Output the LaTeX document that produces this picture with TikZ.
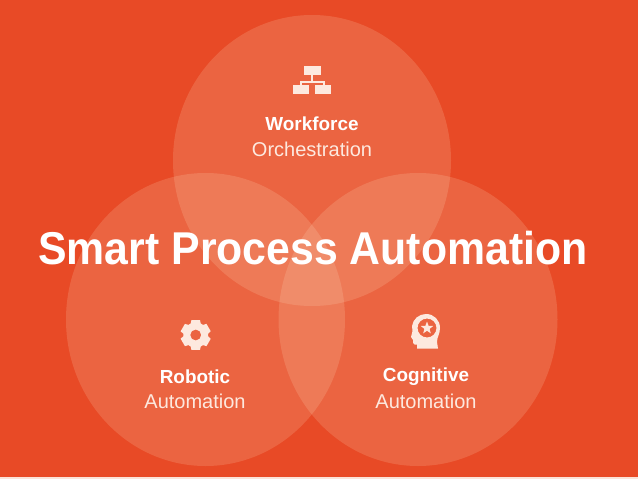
\documentclass[tikz,border=0pt]{standalone}
\usepackage{fontspec}
\setmainfont{Liberation Sans}
\definecolor{bgred}{HTML}{E84A26}
\definecolor{strip}{HTML}{FBE3D9}
\definecolor{ink}{HTML}{FDE9DF}
\definecolor{tint}{HTML}{FFF0D0}
\tikzset{
  venn/.style={fill=tint,fill opacity=0.16,draw=none},
  boldlab/.style={text=white,font=\fontsize{18.9}{22}\selectfont\bfseries,inner sep=0pt,anchor=center},
  lightlab/.style={text=ink,font=\fontsize{20}{22}\selectfont,inner sep=0pt,anchor=center},
  iconfill/.style={fill=ink,draw=none},
  iconline/.style={draw=ink,line width=1.8pt}
}
\begin{document}
\begin{tikzpicture}[x=1pt,y=-1pt]
\useasboundingbox (0,0) rectangle (638,479);
\fill[strip] (0,0) rectangle (638,479);
\fill[bgred] (0,0) rectangle (638,477);
\fill[venn] (312,160.5) ellipse [x radius=139,y radius=145.5];
\fill[venn] (205.5,319.5) ellipse [x radius=139.5,y radius=146.5];
\fill[venn] (418,319.5) ellipse [x radius=139.5,y radius=146.5];
% org chart icon
\draw[iconline] (312,72) -- (312,82) (301,87) -- (301,82) -- (324,82) -- (324,87);
\fill[iconfill] (304,66) rectangle (321,74.5);
\fill[iconfill] (293,85) rectangle (309,94);
\fill[iconfill] (314.5,85) rectangle (331,94);
% gear icon
\begin{scope}[shift={(195.7,335)}]
\fill[iconfill,even odd rule] (90-16:15.5)
  \foreach \a in {90,150,210,270,330,390} { -- (\a-16:15.5) -- (\a+16:15.5) -- (\a+24:12.5) -- (\a+36:12.5) } -- cycle
  (0,0) circle [radius=5.5];
\end{scope}
% head icon
\fill[iconfill,even odd rule] (426,314) .. controls (434,314) and (440,320) .. (440,328) .. controls (440,334) and (437,337) .. (437,342) -- (438,348.5) -- (417,348.5) -- (417,344.5) -- (414.5,344.5) .. controls (413,344.5) and (413,342) .. (413,340) -- (411,337) -- (412.5,331) -- (412,326) .. controls (413,319) and (419,314) .. (426,314) -- cycle (427,328) circle [radius=9.5];
\fill[iconfill] (427,321.5) -- (428.6,325.8) -- (433.2,326) -- (429.6,328.9) -- (430.8,333.3) -- (427,330.8) -- (423.2,333.3) -- (424.4,328.9) -- (420.8,326) -- (425.4,325.8) -- cycle;
% labels
\node[boldlab] (workforce) at (312,124) {Workforce};
\node[lightlab] (orchestration) at (312,149) {Orchestration};
\node[boldlab] (robotic) at (195,377) {Robotic};
\node[lightlab] (autoleft) at (195,401) {Automation};
\node[boldlab] (cognitive) at (426,377) {Cognitive};
\node[lightlab] (autoright) at (426,401) {Automation};
\node[text=white,inner sep=0pt,font=\fontsize{46}{50}\selectfont\bfseries] (title) at (313,248) {\scalebox{0.93}[1]{Smart Process Automation}};
\end{tikzpicture}
\end{document}
